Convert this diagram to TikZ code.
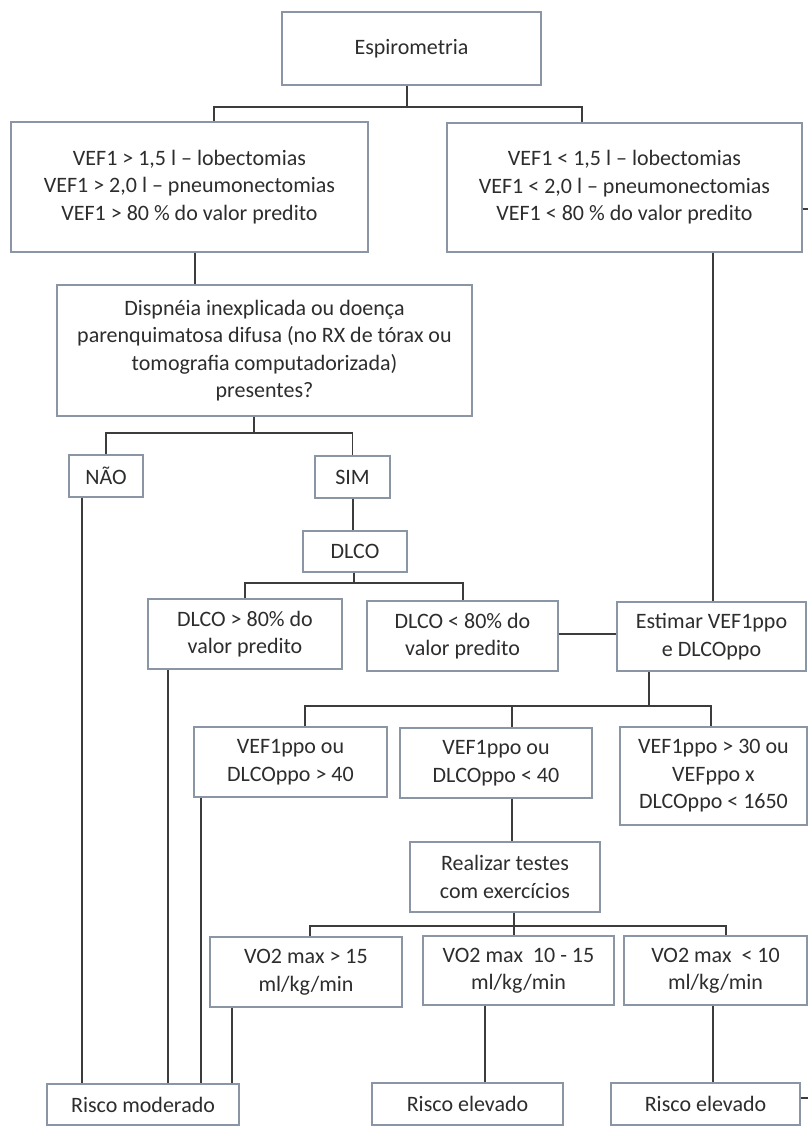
\documentclass[tikz,border=0pt]{standalone}
\usepackage{fontspec}
\setmainfont{Carlito}
\definecolor{boxc}{RGB}{138,150,166}
\definecolor{linec}{RGB}{60,60,60}
\definecolor{txtc}{RGB}{45,45,45}
\begin{document}
\begin{tikzpicture}[x=1pt,y=-1pt,
  box/.style={draw=boxc, line width=1.3pt, fill=white, inner sep=0pt, align=center, text=txtc, font=\fontsize{22}{27.5}\selectfont},
  conn/.style={draw=linec, line width=1.6pt}]
\useasboundingbox (0,0) rectangle (808,1126);
% boxes
\node[box, minimum width=259pt, minimum height=73pt] (esp) at (411.5,48.5) {Espirometria};
\node[box, minimum width=357pt, minimum height=130pt] (left) at (189.5,187) {VEF1 > 1,5 l – lobectomias\\VEF1 > 2,0 l – pneumonectomias\\VEF1 > 80 \% do valor predito};
\node[box, minimum width=355pt, minimum height=129pt] (right) at (624.5,187.5) {VEF1 < 1,5 l – lobectomias\\VEF1 < 2,0 l – pneumonectomias\\VEF1 < 80 \% do valor predito};
\node[box, minimum width=415pt, minimum height=131pt] (disp) at (264.5,350.5) {Dispnéia inexplicada ou doença\\parenquimatosa difusa (no RX de tórax ou\\tomografia computadorizada)\\presentes?};
\node[box, minimum width=74pt, minimum height=42pt] (nao) at (106,476) {NÃO};
\node[box, minimum width=75pt, minimum height=42pt] (sim) at (352.5,477) {SIM};
\node[box, minimum width=104pt, minimum height=41pt] (dlco) at (355,551.5) {DLCO};
\node[box, minimum width=194pt, minimum height=70pt] (d80g) at (245,634) {DLCO > 80\% do\\valor predito};
\node[box, minimum width=191pt, minimum height=70pt] (d80l) at (462.5,636) {DLCO < 80\% do\\valor predito};
\node[box, minimum width=189pt, minimum height=69pt] (est) at (711.5,636.5) {Estimar VEF1ppo\\e DLCOppo};
\node[box, minimum width=193pt, minimum height=70pt] (p40g) at (290.5,762) {VEF1ppo ou\\DLCOppo > 40};
\node[box, minimum width=192pt, minimum height=70pt] (p40l) at (496,763) {VEF1ppo ou\\DLCOppo < 40};
\node[box, minimum width=187pt, minimum height=98pt] (p30) at (713.5,776) {VEF1ppo > 30 ou\\VEFppo x\\DLCOppo < 1650};
\node[box, minimum width=190pt, minimum height=70pt] (real) at (505,877) {Realizar testes\\com exercícios};
\node[box, minimum width=192pt, minimum height=70pt] (vo15) at (306,972) {VO2 max > 15\\ml/kg/min};
\node[box, minimum width=191pt, minimum height=69pt] (vo1015) at (518.5,970.5) {VO2 max~~10 - 15\\ml/kg/min};
\node[box, minimum width=183pt, minimum height=69pt] (vo10) at (715.5,970.5) {VO2 max~~< 10\\ml/kg/min};
\node[box, minimum width=192pt, minimum height=41pt] (rmod) at (143,1104.5) {Risco moderado};
\node[box, minimum width=191pt, minimum height=42pt] (rel1) at (467.5,1104) {Risco elevado};
\node[box, minimum width=189pt, minimum height=42pt] (rel2) at (705.5,1104) {Risco elevado};
% bus coordinates
\coordinate (b1) at (407,107);
\coordinate (b1l) at (214,107);
\coordinate (b1r) at (582,107);
\coordinate (x195) at (195,0);
\coordinate (x713) at (713,0);
\coordinate (b2) at (254,433);
\coordinate (b2l) at (106,433);
\coordinate (b2r) at (352.5,433);
\coordinate (x82) at (82,0);
\coordinate (x353) at (353,0);
\coordinate (b3) at (354,583);
\coordinate (b3l) at (245,583);
\coordinate (b3r) at (463,583);
\coordinate (y634) at (0,634);
\coordinate (x168) at (168,0);
\coordinate (b4) at (649,706);
\coordinate (b4l) at (305,706);
\coordinate (b4m) at (512,706);
\coordinate (b4r) at (711,706);
\coordinate (x201) at (201,0);
\coordinate (b5) at (514,926);
\coordinate (b5l) at (310,926);
\coordinate (b5m) at (514,926);
\coordinate (b5r) at (726,926);
\coordinate (x232) at (232,0);
\coordinate (x485) at (485,0);
\coordinate (s1) at (808,209);
\coordinate (s2) at (808,1098);
% connectors
\draw[conn] (esp.south -| b1) -- (b1);
\draw[conn] (left.north -| b1l) -- (b1l) -- (b1r) -- (right.north -| b1r);
\draw[conn] (left.south -| x195) -- (disp.north -| x195);
\draw[conn] (right.south -| x713) -- (est.north -| x713);
\draw[conn] (disp.south -| b2) -- (b2);
\draw[conn] (nao.north) -- (b2l) -- (b2r) -- (sim.north);
\draw[conn] (nao.south -| x82) -- (rmod.north -| x82);
\draw[conn] (sim.south -| x353) -- (dlco.north -| x353);
\draw[conn] (dlco.south -| b3) -- (b3);
\draw[conn] (d80g.north -| b3l) -- (b3l) -- (b3r) -- (d80l.north -| b3r);
\draw[conn] (d80l.east |- y634) -- (est.west |- y634);
\draw[conn] (d80g.south -| x168) -- (rmod.north -| x168);
\draw[conn] (est.south -| b4) -- (b4);
\draw[conn] (p40g.north -| b4l) -- (b4l) -- (b4r) -- (p30.north -| b4r);
\draw[conn] (b4m) -- (p40l.north -| b4m);
\draw[conn] (p40g.south -| x201) -- (rmod.north -| x201);
\draw[conn] (p40l.south -| b4m) -- (real.north -| b4m);
\draw[conn] (real.south -| b5) -- (b5);
\draw[conn] (vo15.north -| b5l) -- (b5l) -- (b5r) -- (vo10.north -| b5r);
\draw[conn] (b5m) -- (vo1015.north -| b5m);
\draw[conn] (vo15.south -| x232) -- (rmod.north -| x232);
\draw[conn] (vo1015.south -| x485) -- (rel1.north -| x485);
\draw[conn] (vo10.south -| x713) -- (rel2.north -| x713);
\draw[conn] (right.east |- s1) -- (s1);
\draw[conn] (rel2.east |- s2) -- (s2);
\end{tikzpicture}
\end{document}
